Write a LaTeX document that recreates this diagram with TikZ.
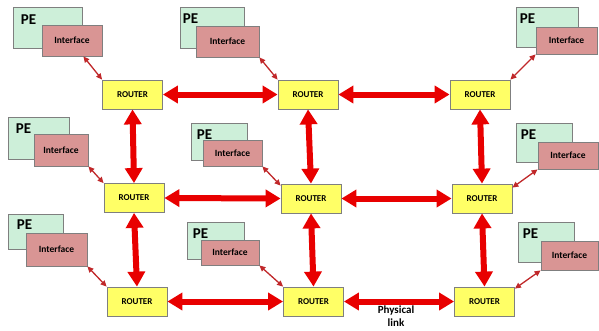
\documentclass[tikz,border=0pt]{standalone}
\usepackage{fontspec}
\setmainfont{Carlito}
\usetikzlibrary{arrows.meta}
\definecolor{pegreen}{HTML}{CDEFD9}
\definecolor{ifred}{HTML}{D99594}
\definecolor{rtyellow}{HTML}{FFFF66}
\definecolor{boxgray}{HTML}{7F7F7F}
\definecolor{linkred}{HTML}{E80000}
\definecolor{thinred}{HTML}{C0282A}
\begin{document}
\begin{tikzpicture}[x=1pt,y=-1pt,
  pebox/.style={draw=boxgray, fill=pegreen, line width=0.8pt, inner sep=0pt},
  petext/.style={anchor=north west, inner sep=0pt, font=\fontsize{15}{16}\selectfont\bfseries},
  ifbox/.style={draw=boxgray, fill=ifred, line width=0.8pt, inner sep=0pt, font=\fontsize{9.5}{10}\selectfont\bfseries},
  rtbox/.style={draw=boxgray, fill=rtyellow, line width=0.8pt, inner sep=0pt, minimum width=60pt, minimum height=29pt, font=\fontsize{9}{10}\selectfont\bfseries},
  linkarrow/.style={draw=linkred, line width=6pt, {Triangle[length=15pt,width=17pt]}-{Triangle[length=15pt,width=17pt]}},
  thinarrow/.style={draw=thinred, line width=1.3pt, {Triangle[length=6pt,width=5.5pt]}-{Triangle[length=6pt,width=5.5pt]}},
  linktext/.style={align=center, inner sep=0pt, font=\fontsize{11}{13}\selectfont\bfseries}
]
\useasboundingbox (0,0) rectangle (599,330);

% ---------- Row 1 ----------
\node[pebox, minimum width=69pt, minimum height=41pt] (pe1) at (47.5,27.5) {};
\node[petext] (pe1t) at ([xshift=8pt,yshift=-8pt]pe1.north west) {PE};
\node[ifbox, minimum width=60pt, minimum height=31pt] (if1) at (72,40.5) {Interface};
\node[rtbox] (r11) at (132.5,94.5) {ROUTER};

\node[pebox, minimum width=64pt, minimum height=41pt] (pe2) at (212,27.5) {};
\node[petext] (pe2t) at ([xshift=3pt,yshift=-7pt]pe2.north west) {PE};
\node[ifbox, minimum width=63pt, minimum height=31pt] (if2) at (227.5,41.5) {Interface};
\node[rtbox] (r12) at (308,94.5) {ROUTER};

\node[pebox, minimum width=62pt, minimum height=40pt] (pe3) at (547,27) {};
\node[petext] (pe3t) at ([xshift=4pt,yshift=-7pt]pe3.north west) {PE};
\node[ifbox, minimum width=61pt, minimum height=27pt] (if3) at (566.5,40.5) {Interface};
\node[rtbox] (r13) at (480,94.5) {ROUTER};

% ---------- Row 2 ----------
\node[pebox, minimum width=61pt, minimum height=42pt] (pe4) at (38.5,138) {};
\node[petext] (pe4t) at ([xshift=8pt,yshift=-7pt]pe4.north west) {PE};
\node[ifbox, minimum width=54pt, minimum height=32pt] (if4) at (61,150) {Interface};
\node[rtbox] (r21) at (134,198) {ROUTER};

\node[pebox, minimum width=56pt, minimum height=37pt] (pe5) at (219,141.5) {};
\node[petext] (pe5t) at ([xshift=6pt,yshift=-7pt]pe5.north west) {PE};
\node[ifbox, minimum width=59pt, minimum height=26pt] (if5) at (232.5,153) {Interface};
\node[rtbox] (r22) at (311,198.5) {ROUTER};

\node[pebox, minimum width=56pt, minimum height=39pt] (pe6) at (544,142.5) {};
\node[petext] (pe6t) at ([xshift=5pt,yshift=-7pt]pe6.north west) {PE};
\node[ifbox, minimum width=60pt, minimum height=27pt] (if6) at (568,155.5) {Interface};
\node[rtbox] (r23) at (482,198.5) {ROUTER};

% ---------- Row 3 ----------
\node[pebox, minimum width=55pt, minimum height=35pt] (pe7) at (35.5,231.5) {};
\node[petext] (pe7t) at ([xshift=9pt,yshift=-6pt]pe7.north west) {PE};
\node[ifbox, minimum width=61pt, minimum height=33pt] (if7) at (56.5,249.5) {Interface};
\node[rtbox] (r31) at (137,301.5) {ROUTER};

\node[pebox, minimum width=57pt, minimum height=37pt] (pe8) at (215.5,240.5) {};
\node[petext] (pe8t) at ([xshift=6pt,yshift=-7pt]pe8.north west) {PE};
\node[ifbox, minimum width=58pt, minimum height=25pt] (if8) at (230,252.5) {Interface};
\node[rtbox] (r32) at (313.5,301.5) {ROUTER};

\node[pebox, minimum width=56pt, minimum height=40pt] (pe9) at (546,242) {};
\node[petext] (pe9t) at ([xshift=5pt,yshift=-7pt]pe9.north west) {PE};
\node[ifbox, minimum width=57pt, minimum height=29pt] (if9) at (569.5,255.5) {Interface};
\node[rtbox] (r33) at (484.5,301.5) {ROUTER};

% ---------- Physical links ----------
\draw[linkarrow] (r11.east) -- (r12.west);
\draw[linkarrow] (r12.east) -- (r13.west);
\draw[linkarrow] (r21.east) -- (r22.west);
\draw[linkarrow] (r22.east) -- (r23.west);
\draw[linkarrow] (r31.east) -- (r32.west);
\draw[linkarrow] (r32.east) -- (r33.west);
\draw[linkarrow] (r11.south) -- (r21.north);
\draw[linkarrow] (r12.south) -- (r22.north);
\draw[linkarrow] (r13.south) -- (r23.north);
\draw[linkarrow] (r21.south) -- (r31.north);
\draw[linkarrow] (r22.south) -- (r32.north);
\draw[linkarrow] (r23.south) -- (r33.north);

% ---------- Interface links ----------
\draw[thinarrow] ([xshift=-19pt]if1.south east) -- (r11.north west);
\draw[thinarrow] (if2.south east) -- (r12.north west);
\draw[thinarrow] (if3.south west) -- (r13.north east);
\draw[thinarrow] (if4.south east) -- (r21.north west);
\draw[thinarrow] (if5.south east) -- ([yshift=-2pt]r22.north west);
\draw[thinarrow] (if6.south west) -- ([yshift=-4pt]r23.north east);
\draw[thinarrow] (if7.south east) -- (r31.north west);
\draw[thinarrow] (if8.south east) -- (r32.north west);
\draw[thinarrow] (if9.south west) -- ([yshift=-2pt]r33.north east);

\node[linktext] (plink) at (396,316) {Physical\\link};
\end{tikzpicture}
\end{document}
